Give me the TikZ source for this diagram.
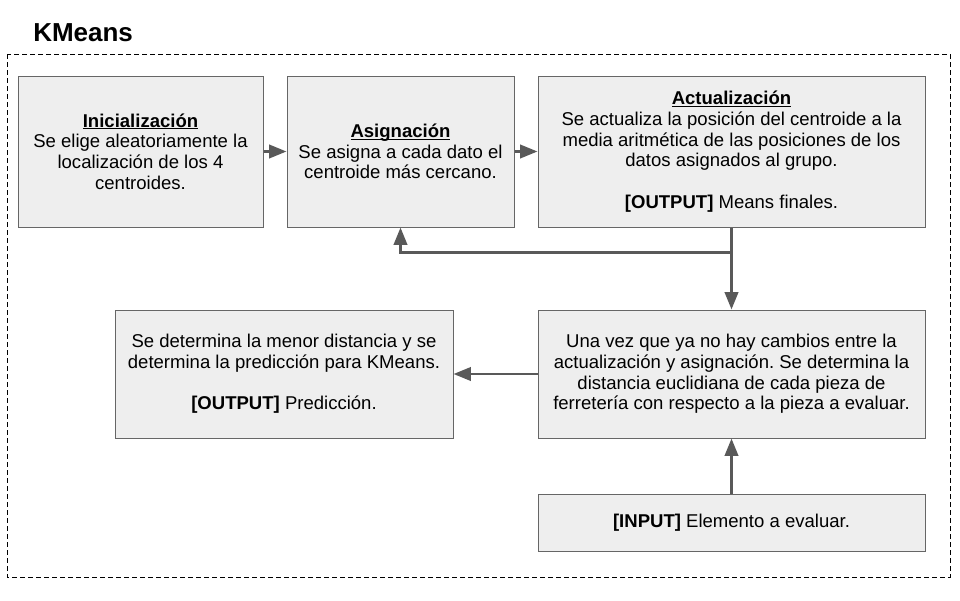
\documentclass[tikz,border=0pt]{standalone}
\usepackage{fontspec}
\setmainfont{Liberation Sans}
\usepackage{xcolor}
\usetikzlibrary{arrows.meta,positioning}
\definecolor{boxfill}{RGB}{238,238,238}
\definecolor{boxline}{RGB}{102,102,102}
\definecolor{arrowcolor}{RGB}{89,89,89}
\newsavebox{\titlebox}
\newcommand{\boxtitle}[1]{\sbox{\titlebox}{\textbf{#1}}\rlap{\rule[-1.7pt]{\wd\titlebox}{0.8pt}}\usebox{\titlebox}}
\frenchspacing

\begin{document}
\begin{tikzpicture}[
    x=0.75pt, y=-0.75pt,
    box/.style={rectangle, draw=boxline, fill=boxfill, line width=0.75pt, inner sep=0pt, align=center, minimum height=113.25pt, font=\fontsize{13.9}{15.5}\selectfont},
    arrow/.style={-{Triangle[length=13pt, width=10pt]}, line width=2pt, draw=arrowcolor}
]
\useasboundingbox (0,0) rectangle (960,600);
\node[anchor=base west, inner sep=0pt, font=\fontsize{19.5}{23}\selectfont\bfseries] (title) at (33,41) {KMeans};
\draw[dash pattern=on 3.75pt off 2.25pt, line width=0.75pt] (7,54) rectangle (950,577);

\node[box, minimum width=183.75pt] (init) at (140.5,151.5) {\boxtitle{Inicialización}\\Se elige aleatoriamente la\\localización de los 4\\centroides.};
\node[box, minimum width=170.25pt, right=17.25pt of init] (asig) {\boxtitle{Asignación}\\Se asigna a cada dato el\\centroide más cercano.};
\node[box, minimum width=290.25pt, right=17.25pt of asig] (act) {\boxtitle{Actualización}\\Se actualiza la posición del centroide a la\\media aritmética de las posiciones de los\\datos asignados al grupo.\\[15.5pt]\textbf{[OUTPUT]} Means finales.};
\node[box, minimum width=290.25pt, minimum height=96pt, below=61.5pt of act] (una) {Una vez que ya no hay cambios entre la\\actualización y asignación. Se determina la\\distancia euclidiana de cada pieza de\\ferretería con respecto a la pieza a evaluar.};
\node[box, minimum width=253.5pt, minimum height=96pt, left=63pt of una] (pred) {Se determina la menor distancia y se\\determina la predicción para KMeans.\\[15.5pt]\textbf{[OUTPUT]} Predicción.};
\node[box, minimum width=290.25pt, minimum height=42.75pt, below=41.25pt of una] (input) {\textbf{[INPUT]} Elemento a evaluar.};
\coordinate[below=18.75pt of act] (turn);

\draw[arrow] (init) -- (asig);
\draw[arrow] (asig) -- (act);
\draw[arrow] (act) -- (una);
\draw[arrow] (turn) -| (asig);
\draw[arrow] (una) -- (pred);
\draw[arrow] (input) -- (una);
\end{tikzpicture}
\end{document}
